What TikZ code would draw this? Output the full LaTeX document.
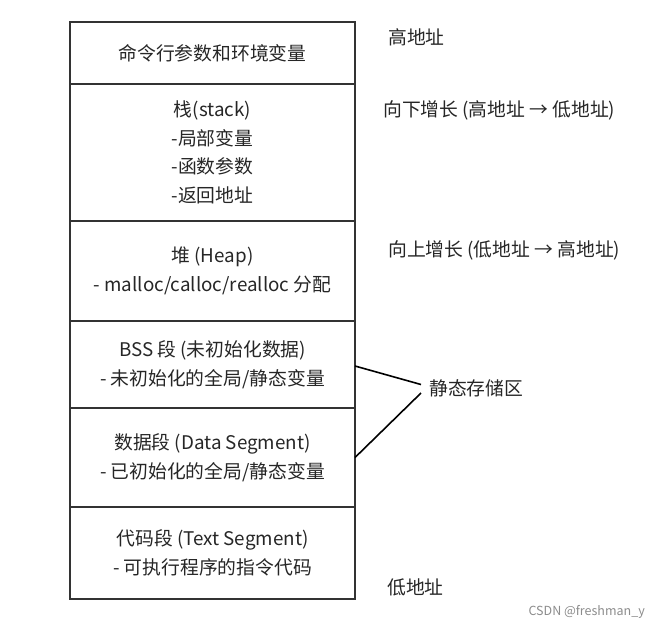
\documentclass[tikz,border=0pt]{standalone}
\usepackage{fontspec}
\newfontfamily\cjk{Noto Sans CJK SC}
\usetikzlibrary{positioning}

\begin{document}
\begin{tikzpicture}[x=1pt, y=-1pt, node distance=0pt,
		seg node/.style={rectangle, draw=black!80, line width=1.2pt, outer sep=0pt, inner sep=0pt, minimum width=285pt, align=center, text=black!85, font=\cjk\fontsize{18.8}{28.5}\selectfont},
		side node/.style={anchor=west, inner sep=0pt, text=black!85, font=\cjk\fontsize{18.8}{28}\selectfont},
		link/.style={-, line width=1.6pt, black}]

	\useasboundingbox (0,0) rectangle (652,625);

	% memory segments, top to bottom
	\node[seg node, minimum height=62pt, anchor=north west] (args) at (70,22) {命令行参数和环境变量};
	\node[seg node, minimum height=137pt] (stack) [below=of args] {栈(stack)\\-局部变量\\-函数参数\\-返回地址};
	\node[seg node, minimum height=100pt] (heap) [below=of stack] {堆 (Heap)\\- malloc/calloc/realloc 分配};
	\node[seg node, minimum height=87pt] (bss) [below=of heap] {BSS 段 (未初始化数据)\\- 未初始化的全局/静态变量};
	\node[seg node, minimum height=99pt] (data) [below=of bss] {数据段 (Data Segment)\\- 已初始化的全局/静态变量};
	\node[seg node, minimum height=92pt] (code) [below=of data] {代码段 (Text Segment)\\- 可执行程序的指令代码};

	% labels on the right
	\node[side node] (high) at (388,37) {高地址};
	\node[side node] (down) at (383,110) {向下增长 (高地址 → 低地址)};
	\node[side node] (up) at (388,250) {向上增长 (低地址 → 高地址)};
	\node[side node, inner xsep=8pt] (static) at (421,388) {静态存储区};
	\node[side node] (low) at (387,587) {低地址};
	\node[anchor=east, inner sep=0pt, text=black!45, font=\cjk\fontsize{12.5}{14}\selectfont] (mark) at (645,612) {CSDN @freshman\_y};

	\draw[link] ([yshift=-1.5pt]bss.east) -- ([yshift=3.5pt]static.west);
	\draw[link] (data.east) -- ([yshift=-5pt]static.west);
\end{tikzpicture}
\end{document}
